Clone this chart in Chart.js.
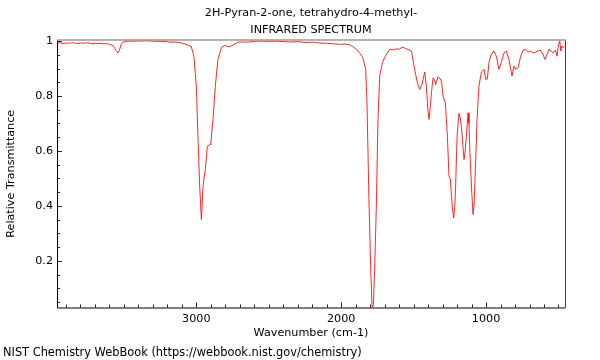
<!DOCTYPE html>
<html>
<head>
<meta charset="utf-8">
<script src="https://cdn.jsdelivr.net/npm/chart.js@4/dist/chart.umd.min.js"></script>
<style>
  body { margin:0; background:#fff; }
  #wrap { position:relative; width:600px; height:360px; }
  #foot {
    position:absolute; left:3px; top:345px;
    font:11.4px "DejaVu Sans", sans-serif; line-height:14px; color:#000;
  }
</style>
</head>
<body>
<div id="wrap">
  <canvas id="chart" width="600" height="360"></canvas>
  <div id="foot">NIST Chemistry WebBook (https://webbook.nist.gov/chemistry)</div>
</div>
<script>
const titleLines = ["2H-Pyran-2-one, tetrahydro-4-methyl-", "INFRARED SPECTRUM"];
const xLabel = "Wavenumber (cm-1)";
const yLabel = "Relative Transmittance";

const xTicks = [1000, 2000, 3000];
const yTicks = [0.2, 0.4, 0.6, 0.8, 1];

// wavenumber (cm-1)
const wavenumbers = [
  3962,3940,3920,3900,3880,3860,3840,3820,3800,3780,3760,3740,3720,3700,3680,3660,3640,3620,3600,3580,
  3565,3550,3541,3532,3520,3505,3480,3450,3400,3350,3300,3250,3200,3184,3170,3140,3110,3080,3060,3035,
  3017,3000,2989,2977,2965,2954,2938,2924,2910,2901,2885,2869,2851,2827,2805,2785,2770,2740,2713,2680,
  2650,2600,2550,2500,2450,2400,2350,2300,2250,2200,2150,2100,2050,2010,1970,1941,1920,1895,1870,1850,
  1831,1822,1808,1796,1788,1783,1778,1769,1757,1746,1734,1716,1700,1688,1665,1640,1619,1600,1585,1573,
  1555,1539,1515,1493,1475,1458,1442,1424,1412,1403,1394,1385,1377,1366,1357,1348,1340,1332,1320,1308,
  1297,1281,1267,1256,1246,1239,1230,1223,1216,1210,1200,1187,1178,1170,1160,1152,1144,1136,1124,1118,
  1113,1101,1090,1083,1076,1062,1049,1032,1014,1002,991,980,968,952,947,929,911,892,876,860,
  842,821,807,795,779,761,745,726,710,694,676,657,641,624,607,593,579,565,551,537,
  521,510,500,491,484,477,468,458
];

// relative transmittance
const transmittance = [
  0.992,0.994,0.991,0.993,0.992,0.994,0.993,0.991,0.993,0.992,0.994,0.993,0.990,0.992,0.991,0.992,0.990,0.991,0.988,0.985,
  0.975,0.962,0.957,0.965,0.988,0.997,0.999,1.000,1.000,1.001,1.000,0.999,0.998,0.995,0.997,0.996,0.994,0.990,0.986,0.980,
  0.945,0.836,0.654,0.472,0.350,0.472,0.533,0.617,0.622,0.624,0.715,0.836,0.933,0.976,0.984,0.981,0.979,0.988,0.996,0.997,
  0.996,0.999,1.000,0.999,1.000,0.998,0.997,0.998,0.995,0.996,0.993,0.992,0.990,0.988,0.989,0.986,0.980,0.970,0.955,0.939,
  0.897,0.775,0.411,0.168,0.040,0.032,0.040,0.168,0.411,0.715,0.873,0.921,0.940,0.952,0.970,0.968,0.972,0.970,0.976,0.978,
  0.972,0.970,0.964,0.897,0.850,0.824,0.842,0.887,0.836,0.760,0.715,0.760,0.812,0.866,0.860,0.842,0.855,0.870,0.865,0.854,
  0.800,0.775,0.654,0.508,0.496,0.435,0.380,0.356,0.400,0.472,0.654,0.737,0.720,0.690,0.620,0.569,0.600,0.654,0.739,0.700,
  0.617,0.472,0.369,0.400,0.496,0.715,0.836,0.888,0.897,0.860,0.862,0.921,0.945,0.962,0.964,0.945,0.897,0.927,0.957,0.964,
  0.933,0.873,0.909,0.897,0.903,0.945,0.967,0.970,0.960,0.964,0.957,0.960,0.964,0.967,0.952,0.933,0.952,0.970,0.964,0.957,
  0.967,0.945,0.988,1.000,0.964,0.982,0.976,0.980
];

Chart.defaults.font.family = '"DejaVu Sans", sans-serif';
Chart.defaults.font.size = 11.2;
Chart.defaults.color = "#000";

// frame and inward tick marks, like the NIST plot
const frame = {
  id: "frame",
  afterDraw(chart) {
    const ctx = chart.ctx;
    const a = chart.chartArea;
    const x = chart.scales.x, y = chart.scales.y;
    ctx.save();
    ctx.lineWidth = 1;
    ctx.strokeStyle = "#222";
    ctx.beginPath();
    for (let v = 500; v <= 3900; v += 100) {
      const px = Math.round(x.getPixelForValue(v)) + 0.5;
      const len = v % 1000 === 0 ? 5 : 3;
      ctx.moveTo(px, a.bottom);
      ctx.lineTo(px, a.bottom - len);
    }
    for (let i = 1; i <= 20; i++) {
      const v = i * 0.05;
      const py = Math.round(y.getPixelForValue(v)) + 0.5;
      const len = i % 4 === 0 ? 5 : 3;
      ctx.moveTo(a.left, py);
      ctx.lineTo(a.left + len, py);
    }
    ctx.stroke();

    ctx.strokeStyle = "#000";
    ctx.beginPath();
    ctx.moveTo(a.left + 0.5, a.top);
    ctx.lineTo(a.left + 0.5, a.bottom + 0.5);
    ctx.lineTo(a.right, a.bottom + 0.5);
    ctx.stroke();

    ctx.strokeStyle = "#444";
    ctx.beginPath();
    ctx.moveTo(a.right + 0.5, a.top);
    ctx.lineTo(a.right + 0.5, a.bottom + 0.5);
    ctx.stroke();

    ctx.strokeStyle = "#9a9a9a";
    ctx.lineWidth = 1.5;
    ctx.beginPath();
    ctx.moveTo(a.left, a.top);
    ctx.lineTo(a.right + 1, a.top);
    ctx.stroke();
    ctx.restore();
  }
};

new Chart(document.getElementById("chart"), {
  type: "line",
  data: {
    datasets: [{
      data: wavenumbers.map((w, i) => ({ x: w, y: transmittance[i] })),
      borderColor: "rgba(255,0,0,0.85)",
      borderWidth: 1,
      pointRadius: 0,
      tension: 0,
      fill: false
    }]
  },
  options: {
    responsive: false,
    animation: false,
    devicePixelRatio: 1,
    layout: { padding: { left: 0, right: 35, top: 0, bottom: 15 } },
    plugins: {
      legend: { display: false },
      tooltip: { enabled: false },
      title: {
        display: true,
        fullSize: false,
        text: titleLines,
        font: { size: 11.2, weight: "normal", lineHeight: 1.518 },
        color: "#000",
        padding: { top: 5, bottom: 1 }
      }
    },
    scales: {
      x: {
        type: "linear",
        reverse: true,
        min: 455,
        max: 3962,
        grid: { display: false, drawTicks: false },
        border: { display: false },
        afterBuildTicks: s => { s.ticks = xTicks.map(v => ({ value: v })); },
        afterFit: s => { s.height = 37.5; },
        ticks: { padding: 5, maxRotation: 0, callback: v => String(v) },
        title: { display: true, text: xLabel, padding: { top: 0, bottom: 5 } }
      },
      y: {
        type: "linear",
        min: 0.03,
        max: 1.004,
        grid: { display: false, drawTicks: false },
        border: { display: false },
        afterBuildTicks: s => { s.ticks = yTicks.map(v => ({ value: v })); },
        afterFit: s => { s.width = 57; },
        ticks: { padding: 4, callback: v => String(+v.toFixed(1)) },
        title: { display: true, text: yLabel, padding: { top: 4, bottom: 0 } }
      }
    }
  },
  plugins: [frame]
});
</script>
</body>
</html>
